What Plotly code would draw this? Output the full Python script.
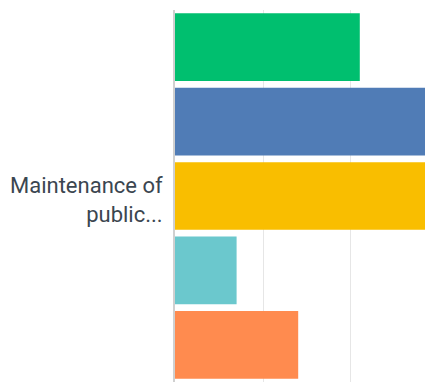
import plotly.graph_objects as go

category = ["Maintenance of<br>public..."]
series_names = ["Series 1", "Series 2", "Series 3", "Series 4", "Series 5"]
series_values = [21, 29, 29, 7, 14]
series_colors = ["#00BF6F", "#507CB6", "#F9BE00", "#6BC8CD", "#FF8B4F"]
x_ticks = [0, 10, 20, 30, 40]

fig = go.Figure()
# Plotly places the first trace at the bottom of a horizontal group, so add reversed
for name, val, col in reversed(list(zip(series_names, series_values, series_colors))):
    fig.add_trace(go.Bar(y=category, x=[val], name=name, orientation="h",
                         marker=dict(color=col, line=dict(width=0)), showlegend=False))

# category label drawn as an annotation so it can be nudged to match the reference
for cat in category:
    fig.add_annotation(x=0, y=cat, xref="x", yref="y", text=cat, showarrow=False,
                       xanchor="right", yanchor="middle", align="right",
                       xshift=-10, yshift=-4,
                       font=dict(family="Roboto", size=22, color="#3b4650"))

fig.update_layout(
    width=427, height=385,
    margin=dict(l=175, r=2, t=10, b=3, autoexpand=False),
    barmode="group", bargap=0, bargroupgap=0.09,
    plot_bgcolor="white", paper_bgcolor="white",
    font=dict(family="Roboto", size=22, color="#333e48"),
    xaxis=dict(range=[0, 28.41], tickvals=x_ticks, showticklabels=False,
               showgrid=True, gridcolor="#e6e6e6", gridwidth=1, zeroline=False,
               showline=False, automargin=False),
    yaxis=dict(showline=True, linecolor="#d0d0d0", linewidth=2, showgrid=False,
               showticklabels=False, automargin=False),
)
fig.write_html(
    "out.html",
    config={"displayModeBar": False},
    post_script="document.body.style.margin='0';document.body.style.overflow='hidden';",
)
